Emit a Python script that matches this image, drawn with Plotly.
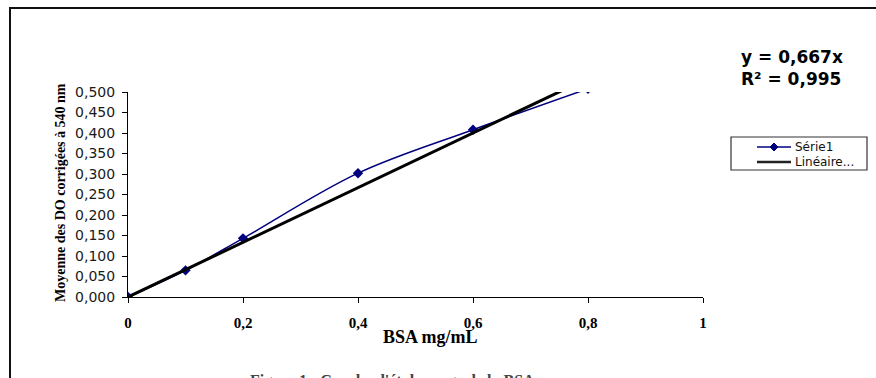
import plotly.graph_objects as go

# Data
bsa_conc = [0, 0.1, 0.2, 0.4, 0.6, 0.8]
do_mean = [0.0, 0.065, 0.143, 0.302, 0.408, 0.508]
slope = 0.667
r2 = 0.995
x_ticks = [0, 0.2, 0.4, 0.6, 0.8, 1]
y_ticks = [0, 0.05, 0.1, 0.15, 0.2, 0.25, 0.3, 0.35, 0.4, 0.45, 0.5]
series_names = ["Série1", "Linéaire..."]

fit_x = [0, max(bsa_conc)]
fit_y = [slope * v for v in fit_x]

W, H = 876, 378
L, R, T, B = 128, 876 - 703, 92, 378 - 297
pw, ph = W - L - R, H - T - B

def px(xp):
    return (xp - L) / pw

def py(yp):
    return (H - B - yp) / ph

BLUE = "#00007f"

fig = go.Figure()
fig.add_trace(go.Scatter(
    x=bsa_conc, y=do_mean, name=series_names[0], mode="lines+markers",
    line=dict(color=BLUE, width=1.5, shape="spline", smoothing=1),
    marker=dict(symbol="diamond", size=8, color=BLUE),
))
fig.add_trace(go.Scatter(
    x=fit_x, y=fit_y, name=series_names[1], mode="lines",
    line=dict(color="black", width=3),
))

# custom compact legend (pixel-placed)
lg_x0, lg_x1, lg_y0, lg_y1 = 731, 867, 137, 170
row_y = [147, 162]
ln_x0, ln_x1 = 757, 791
d = 4
diamond = (f"M {px(774)},{py(row_y[0]-d)} L {px(774+d)},{py(row_y[0])} "
           f"L {px(774)},{py(row_y[0]+d)} L {px(774-d)},{py(row_y[0])} Z")

shapes = [
    dict(type="rect", xref="paper", yref="paper",
         x0=px(10), x1=px(900), y0=py(420), y1=py(8),
         line=dict(color="#111", width=2), fillcolor="rgba(0,0,0,0)", layer="below"),
    dict(type="rect", xref="paper", yref="paper",
         x0=px(lg_x0), x1=px(lg_x1), y0=py(lg_y1), y1=py(lg_y0),
         line=dict(color="#333", width=1.2), fillcolor="white"),
    dict(type="line", xref="paper", yref="paper",
         x0=px(ln_x0), x1=px(ln_x1), y0=py(row_y[0]), y1=py(row_y[0]),
         line=dict(color=BLUE, width=1.5)),
    dict(type="path", xref="paper", yref="paper", path=diamond,
         line=dict(color=BLUE, width=1), fillcolor=BLUE),
    dict(type="line", xref="paper", yref="paper",
         x0=px(ln_x0), x1=px(ln_x1), y0=py(row_y[1]), y1=py(row_y[1]),
         line=dict(color="#222", width=2.5)),
]

annotations = [
    dict(x=px(430), y=py(337), xref="paper", yref="paper",
         xanchor="center", yanchor="middle",
         text="<b>BSA mg/mL</b>", showarrow=False,
         font=dict(family="Liberation Serif", size=18, color="black")),
    dict(x=px(60), y=py(193), xref="paper", yref="paper",
         xanchor="center", yanchor="middle",
         text="<b>Moyenne des DO corrigées à 540 nm</b>", textangle=-90,
         showarrow=False,
         font=dict(family="Liberation Serif", size=14, color="black")),
    dict(x=px(792), y=py(68), xref="paper", yref="paper",
         xanchor="center", yanchor="middle",
         text=f"<b>y = {str(slope).replace('.', ',')}x<br>R² = {str(r2).replace('.', ',')}</b>",
         showarrow=False, align="left",
         font=dict(family="DejaVu Sans", size=17, color="black")),
    dict(x=px(392), y=py(381), xref="paper", yref="paper",
         xanchor="center", yanchor="middle",
         text="<b>Figure 1 : Courbe d'étalonnage de la BSA</b>",
         showarrow=False,
         font=dict(family="Liberation Serif", size=16, color="#444")),
]
for name, ry in zip(series_names, row_y):
    annotations.append(dict(
        x=px(793), y=py(ry), xref="paper", yref="paper",
        xanchor="left", yanchor="middle", text=name, showarrow=False,
        font=dict(family="DejaVu Sans", size=12, color="#111"),
    ))

fig.update_layout(
    width=W, height=H,
    margin=dict(l=L, r=R, t=T, b=B, autoexpand=False),
    paper_bgcolor="white", plot_bgcolor="white",
    separators=", ",
    showlegend=False,
    xaxis=dict(
        range=[0, 1], tickvals=x_ticks, tickformat="",
        showline=True, linecolor="black", linewidth=1,
        ticks="outside", ticklen=5, tickcolor="black",
        showgrid=False, zeroline=False,
        ticklabelstandoff=7,
        tickfont=dict(family="Liberation Serif", size=15, color="black", weight="bold"),
    ),
    yaxis=dict(
        range=[0, 0.5], tickvals=y_ticks, tickformat=".3f",
        showline=True, linecolor="black", linewidth=1,
        ticks="outside", ticklen=5, tickcolor="black",
        showgrid=False, zeroline=False,
        ticklabelstandoff=4,
        tickfont=dict(family="DejaVu Sans", size=14, color="#1a1a1a"),
    ),
    annotations=annotations,
    shapes=shapes,
)

fig.write_html("out.html", config={"displayModeBar": False},
               post_script="document.body.style.margin='0';document.body.style.overflow='hidden';")
